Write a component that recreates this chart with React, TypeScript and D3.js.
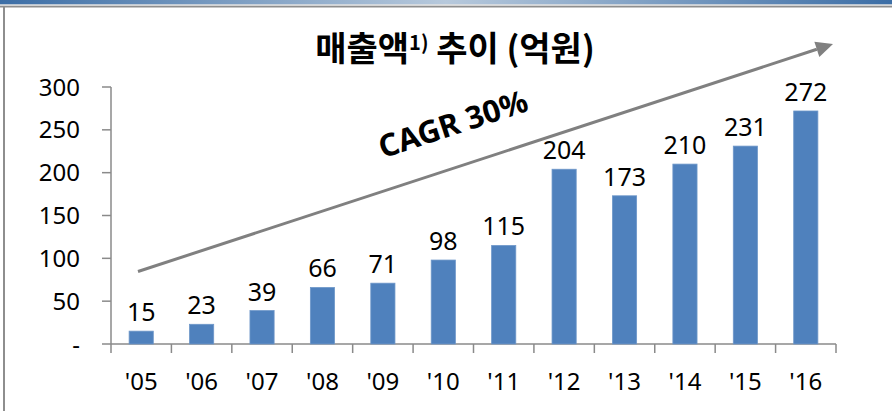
import React from "react";
import * as d3 from "d3";

const years = ["'05", "'06", "'07", "'08", "'09", "'10", "'11", "'12", "'13", "'14", "'15", "'16"];
const sales = [15, 23, 39, 66, 71, 98, 115, 204, 173, 210, 231, 272];
const yTicks = [0, 50, 100, 150, 200, 250, 300];
const titleMain = "매출액";
const titleSup = "1)";
const titleRest = " 추이 (억원)";
const cagrLabel = "CAGR 30%";

const W = 892;
const H = 411;
const M = { left: 111, right: 56, top: 87, bottom: 67 };

export default function App() {
  const x = d3
    .scaleBand<string>()
    .domain(years)
    .range([M.left, W - M.right])
    .paddingInner(0.6)
    .paddingOuter(0.3);
  const y = d3.scaleLinear().domain([0, 300]).range([H - M.bottom, M.top]);
  const y0 = y(0);
  const axisColor = "#8a8a8a";
  const font = "'Noto Sans', sans-serif";

  const bounds = d3.range(years.length + 1).map((i) => M.left + i * ((W - M.right - M.left) / years.length));

  const ax1 = 138, ay1 = 271.5, ax2 = 833, ay2 = 44;
  const ang = Math.atan2(ay2 - ay1, ax2 - ax1);
  const headLen = 17, headW = 8;
  const bx = ax2 - headLen * Math.cos(ang);
  const by = ay2 - headLen * Math.sin(ang);
  const px = -Math.sin(ang) * headW, py = Math.cos(ang) * headW;
  const angDeg = (ang * 180) / Math.PI;

  return (
    <svg width={W} height={H} style={{ position: "absolute", left: 0, top: 0, background: "#fff" }}>
      <defs>
        <linearGradient id="topbar" x1="0" x2="1" y1="0" y2="0">
          <stop offset="0" stopColor="#3c6ea6" />
          <stop offset="0.5" stopColor="#b7c9dc" />
          <stop offset="1" stopColor="#3c6ea6" />
        </linearGradient>
      </defs>
      <rect x={0} y={0} width={W} height={4.5} fill="url(#topbar)" />
      <rect x={0} y={4.5} width={W} height={1.5} fill="#d4d4d4" />
      <rect x={0} y={6} width={W} height={1.5} fill="#8e8e8e" />
      <rect x={3} y={6} width={2} height={H - 6} fill="#8e8e8e" />

      <text
        x={455}
        y={61}
        textAnchor="middle"
        fontFamily="'Noto Sans CJK KR', sans-serif"
        fontWeight={700}
        fontSize={34}
        fill="#000"
      >
        {titleMain}
        <tspan fontSize={20} dy={-11}>{titleSup}</tspan>
        <tspan dy={11}>{titleRest}</tspan>
      </text>

      <line x1={M.left} x2={M.left} y1={y(300)} y2={y0} stroke={axisColor} strokeWidth={1.5} />
      {yTicks.map((t) => (
        <g key={t}>
          <line x1={M.left - 9} x2={M.left} y1={y(t)} y2={y(t)} stroke={axisColor} strokeWidth={1.5} />
          <text
            x={80}
            y={y(t)}
            dy="0.36em"
            textAnchor="end"
            fontFamily={font}
            fontSize={24}
            fill="#000"
          >
            {t === 0 ? "-" : t}
          </text>
        </g>
      ))}

      <line x1={M.left} x2={W - M.right} y1={y0} y2={y0} stroke={axisColor} strokeWidth={1.5} />
      {bounds.map((b, i) => (
        <line key={i} x1={b} x2={b} y1={y0} y2={y0 + 9} stroke={axisColor} strokeWidth={1.5} />
      ))}
      {years.map((yr) => (
        <text
          key={yr}
          x={(x(yr) as number) + x.bandwidth() / 2}
          y={390}
          textAnchor="middle"
          fontFamily={font}
          fontSize={24}
          fill="#000"
        >
          {yr}
        </text>
      ))}

      {years.map((yr, i) => (
        <g key={yr}>
          <rect
            x={x(yr) as number}
            y={y(sales[i])}
            width={x.bandwidth()}
            height={y0 - y(sales[i])}
            fill="#4f81bd"
            stroke="#6e97c9"
            strokeWidth={0.8}
          />
          <text
            x={(x(yr) as number) + x.bandwidth() / 2}
            y={y(sales[i]) - 10}
            textAnchor="middle"
            fontFamily={font}
            fontSize={25}
            fill="#000"
          >
            {sales[i]}
          </text>
        </g>
      ))}

      <line x1={ax1} y1={ay1} x2={bx} y2={by} stroke="#808080" strokeWidth={3} />
      <polygon
        points={`${ax2},${ay2} ${bx + px},${by + py} ${bx - px},${by - py}`}
        fill="#808080"
      />
      <text
        x={453}
        y={124}
        dy="0.35em"
        textAnchor="middle"
        transform={`rotate(${angDeg} 453 124)`}
        fontFamily={font}
        fontWeight={700}
        fontSize={31}
        fill="#000"
      >
        {cagrLabel}
      </text>
    </svg>
  );
}
